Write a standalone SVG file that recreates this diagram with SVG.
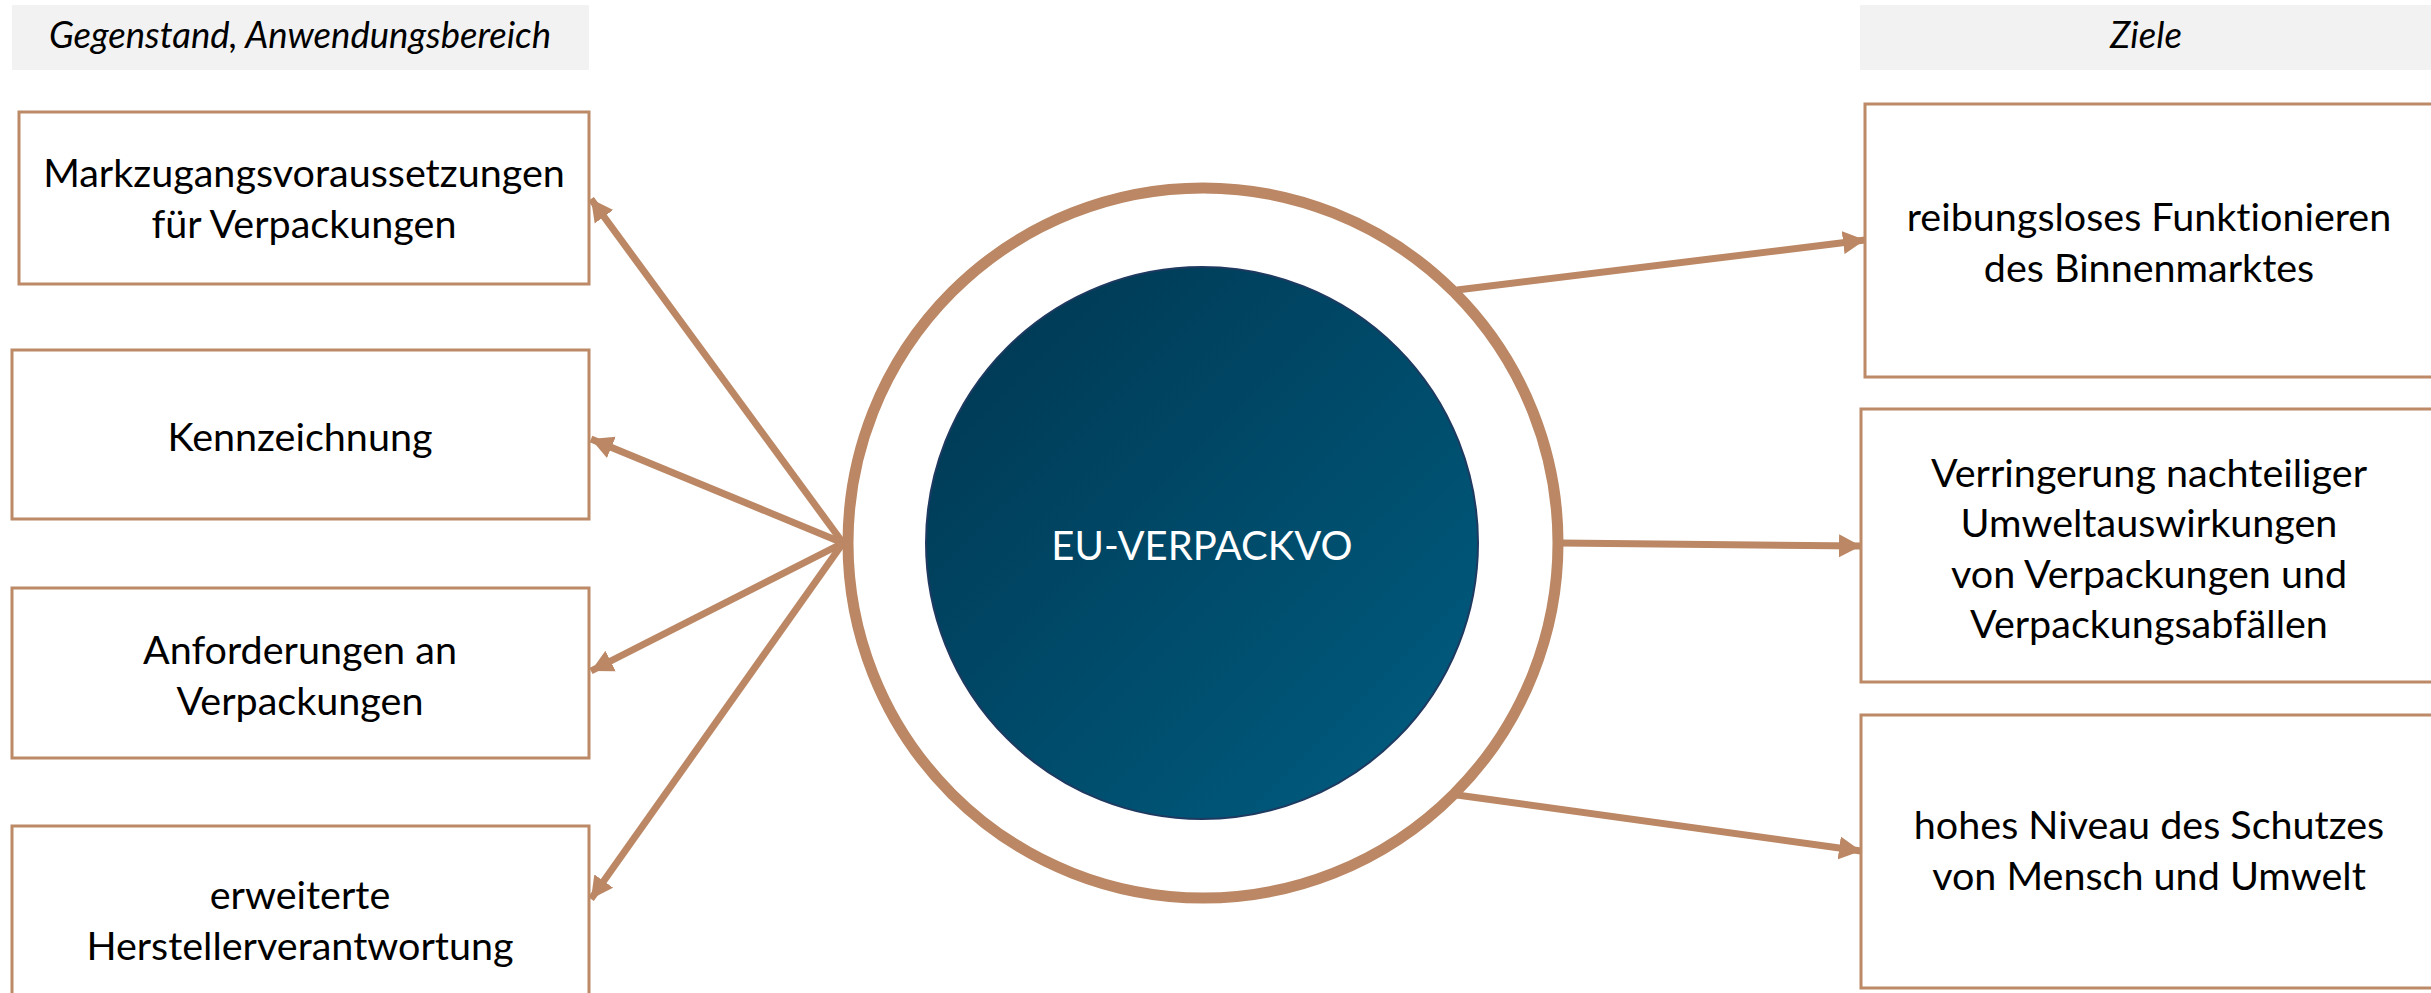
<svg xmlns="http://www.w3.org/2000/svg" width="2431" height="993" viewBox="0 0 2431 993">
<style>
.hdr{fill:#F2F2F2}
.hdrt{font-family:Lato,"Liberation Sans",sans-serif;font-style:italic;font-size:36.5px;fill:#000;text-anchor:middle}
.box{fill:#fff;stroke:#BC8A66;stroke-width:3}
.bt{font-family:Lato,"Liberation Sans",sans-serif;font-size:39.5px;fill:#000;text-anchor:middle;font-variant-ligatures:none}
.con{stroke:#BB8764;stroke-width:7;fill:none}
</style>
<defs>
<marker id="ah" markerUnits="userSpaceOnUse" markerWidth="24" markerHeight="24" refX="22" refY="12" orient="auto">
<path d="M0,0.5 L22,12 L0,23.5 Z" fill="#BB8764"/>
</marker>
<linearGradient id="ig" x1="0" y1="0" x2="1" y2="1">
<stop offset="0" stop-color="#003650"/>
<stop offset="1" stop-color="#005E82"/>
</linearGradient>
</defs>
<rect width="2431" height="993" fill="#fff"/>

<g id="header-left">
<rect class="hdr" x="12" y="5" width="577" height="65"/>
<text class="hdrt" x="300" y="48">Gegenstand, Anwendungsbereich</text>
</g>
<g id="header-right">
<rect class="hdr" x="1860" y="5" width="571" height="65"/>
<text class="hdrt" x="2146" y="48">Ziele</text>
</g>

<g id="connectors">
<line class="con" x1="843" y1="543" x2="591" y2="199" marker-end="url(#ah)"/>
<line class="con" x1="843" y1="543" x2="591" y2="439" marker-end="url(#ah)"/>
<line class="con" x1="843" y1="543" x2="591" y2="671" marker-end="url(#ah)"/>
<line class="con" x1="843" y1="543" x2="591" y2="899" marker-end="url(#ah)"/>
<line class="con" x1="1457" y1="290" x2="1865" y2="240" marker-end="url(#ah)"/>
<line class="con" x1="1560" y1="543" x2="1861" y2="546" marker-end="url(#ah)"/>
<line class="con" x1="1457" y1="795" x2="1861" y2="851" marker-end="url(#ah)"/>
</g>

<g id="center">
<circle cx="1203" cy="543" r="355" fill="none" stroke="#BB8764" stroke-width="11"/>
<circle cx="1202" cy="543" r="276" fill="url(#ig)" stroke="#1F3A60" stroke-width="2"/>
<text x="1202" y="560" font-family="Lato,'Liberation Sans',sans-serif" font-size="40" fill="#fff" text-anchor="middle">EU-VERPACKVO</text>
</g>

<g id="box-l1">
<rect class="box" x="19" y="112" width="570" height="172"/>
<text class="bt" x="304" y="187">Markzugangsvoraussetzungen</text>
<text class="bt" x="304" y="238">für Verpackungen</text>
</g>
<g id="box-l2">
<rect class="box" x="12" y="350" width="577" height="169"/>
<text class="bt" x="300" y="451">Kennzeichnung</text>
</g>
<g id="box-l3">
<rect class="box" x="12" y="588" width="577" height="170"/>
<text class="bt" x="300" y="664">Anforderungen an</text>
<text class="bt" x="300" y="715">Verpackungen</text>
</g>
<g id="box-l4">
<rect class="box" x="12" y="826" width="577" height="180"/>
<text class="bt" x="300" y="909">erweiterte</text>
<text class="bt" x="300" y="960">Herstellerverantwortung</text>
</g>

<g id="box-r1">
<rect class="box" x="1865" y="104" width="580" height="273"/>
<text class="bt" x="2149" y="231">reibungsloses Funktionieren</text>
<text class="bt" x="2149" y="282">des Binnenmarktes</text>
</g>
<g id="box-r2">
<rect class="box" x="1861" y="409" width="584" height="273"/>
<text class="bt" x="2149" y="487">Verringerung nachteiliger</text>
<text class="bt" x="2149" y="537">Umweltauswirkungen</text>
<text class="bt" x="2149" y="588">von Verpackungen und</text>
<text class="bt" x="2149" y="638">Verpackungsabfällen</text>
</g>
<g id="box-r3">
<rect class="box" x="1861" y="715" width="584" height="273"/>
<text class="bt" x="2149" y="839">hohes Niveau des Schutzes</text>
<text class="bt" x="2149" y="890">von Mensch und Umwelt</text>
</g>
</svg>
